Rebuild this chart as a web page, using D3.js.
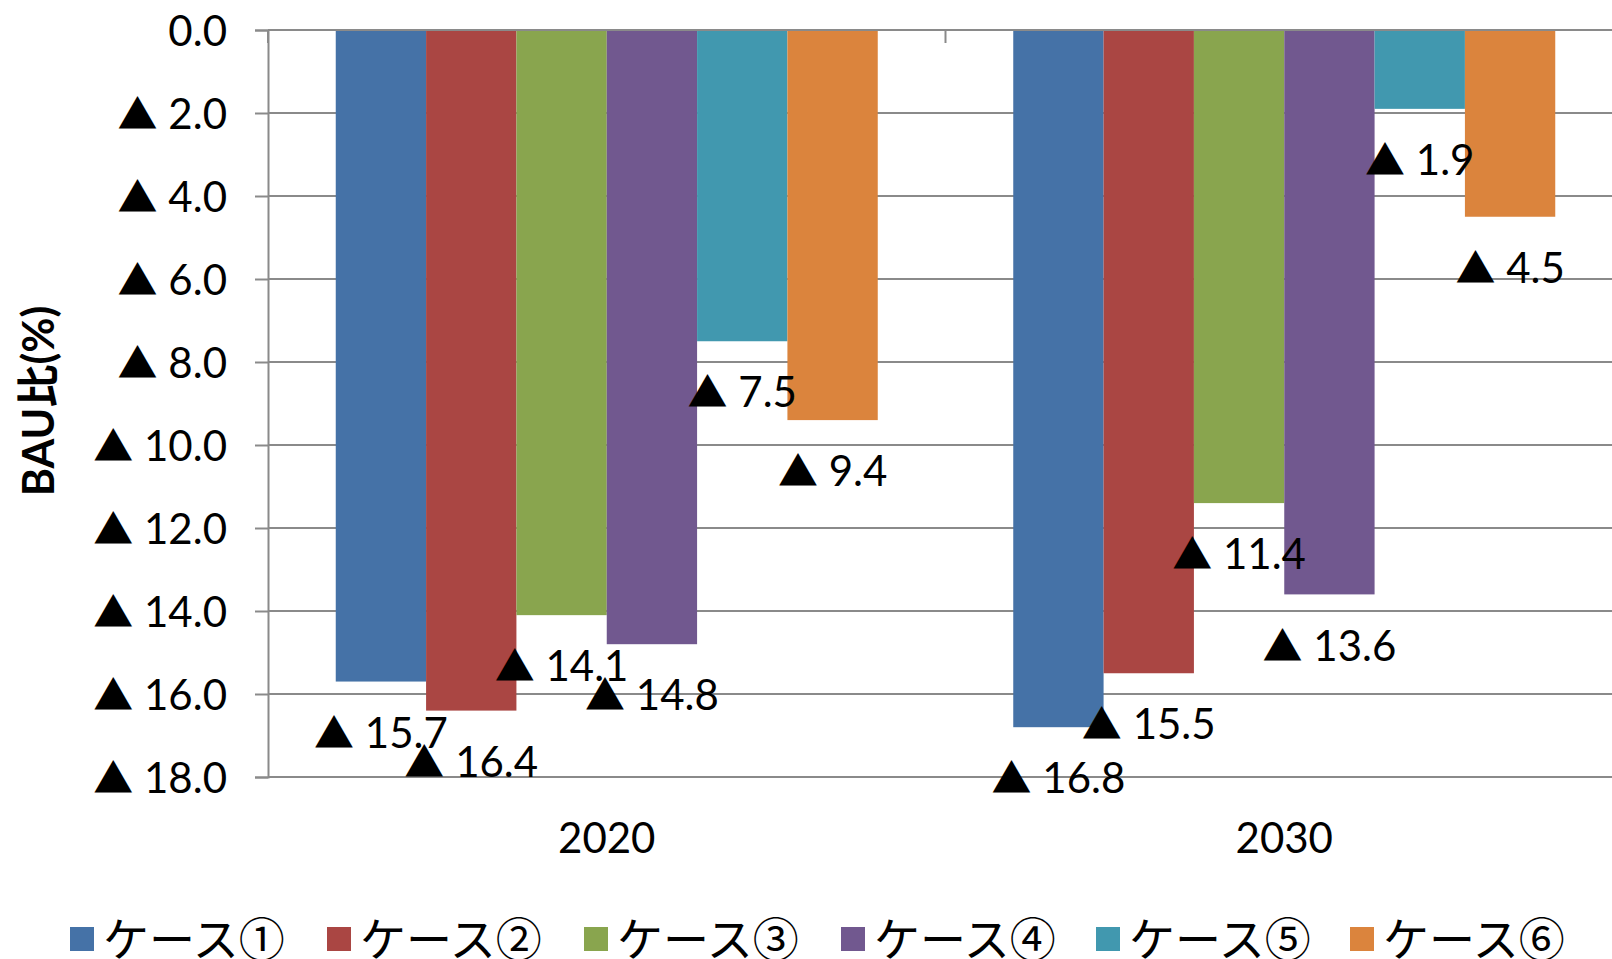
<!DOCTYPE html>
<html>
<head>
<meta charset="utf-8">
<script src="https://cdn.jsdelivr.net/npm/d3@7"></script>
<style>
  html, body { margin: 0; padding: 0; background: #ffffff; }
  svg { display: block; }
</style>
</head>
<body>
<svg id="chart" width="1612" height="959"></svg>
<script>
// BAU比 reduction rate by case, shown as negative (▲) percentages
const years = ["2020", "2030"];
const cases = ["ケース①", "ケース②", "ケース③", "ケース④", "ケース⑤", "ケース⑥"];
const values2020 = [15.7, 16.4, 14.1, 14.8, 7.5, 9.4];
const values2030 = [16.8, 15.5, 11.4, 13.6, 1.9, 4.5];
const caseColors = ["#4572A7", "#AA4643", "#89A54E", "#71588F", "#4198AF", "#DB843D"];
const yTicks = [0, 2, 4, 6, 8, 10, 12, 14, 16, 18];
const yTitle = "BAU比(%)";

const seriesByYear = { "2020": values2020, "2030": values2030 };
const rows = years.flatMap(year =>
  cases.map((c, i) => ({ year, caseName: c, value: seriesByYear[year][i], color: caseColors[i] })));

const svg = d3.select("#chart");
const plot = { left: 268, right: 1623, top: 30, bottom: 777 };
const gridColor = "#8a8a8a";
const numFont = "Lato, 'Noto Sans', sans-serif";
const cjkFont = "'Noto Sans CJK JP', sans-serif";

const x0 = d3.scaleBand().domain(years).range([plot.left, plot.right]).paddingInner(0).paddingOuter(0);
const x1 = d3.scaleBand().domain(cases).range([0, x0.bandwidth()]).paddingInner(0).paddingOuter(0.75 / 6 * 1.0);
// Gap width 150%: group = 6 bars, gap = 1.5 bars, split on both sides
x1.range([x0.bandwidth() * 0.1, x0.bandwidth() * 0.9]).paddingOuter(0);

// Value axis runs downward: 0 at the top, 18 at the bottom
const y = d3.scaleLinear().domain([0, 18]).range([plot.top, plot.bottom]);

const fmt = v => v === 0 ? "0.0" : d3.format(".1f")(v);

// Horizontal gridlines
svg.append("g").selectAll("line").data(yTicks).join("line")
  .attr("x1", plot.left).attr("x2", plot.right)
  .attr("y1", d => y(d)).attr("y2", d => y(d))
  .attr("stroke", gridColor).attr("stroke-width", 2);

// Bars
svg.append("g").selectAll("rect").data(rows).join("rect")
  .attr("x", d => x0(d.year) + x1(d.caseName))
  .attr("width", x1.bandwidth())
  .attr("y", y(0))
  .attr("height", d => y(d.value) - y(0))
  .attr("fill", d => d.color);

// Value axis with ▲ marking negative values
const yAxis = d3.axisLeft(y).tickValues(yTicks).tickSize(13).tickPadding(28).tickFormat(fmt);
const gy = svg.append("g").attr("transform", `translate(${plot.left},0)`).call(yAxis);
gy.select(".domain").attr("stroke", gridColor).attr("stroke-width", 2);
gy.selectAll(".tick line").attr("stroke", gridColor).attr("stroke-width", 2);
gy.selectAll(".tick text").each(function (d) {
  const t = d3.select(this);
  t.text(null)
    .attr("font-family", numFont).attr("font-size", 42).attr("fill", "#000")
    .attr("dy", "0.36em");
  if (d !== 0) {
    t.append("tspan").attr("font-family", cjkFont).attr("font-size", 40).text("▲");
    t.append("tspan").text(" ");
  }
  t.append("tspan").text(fmt(d));
});

// Category axis along the zero line with separator ticks
svg.append("line")
  .attr("x1", plot.left).attr("x2", plot.right)
  .attr("y1", y(0)).attr("y2", y(0))
  .attr("stroke", gridColor).attr("stroke-width", 2);
const bounds = years.map(yr => x0(yr)).concat([plot.right]);
svg.append("g").selectAll("line").data(bounds).join("line")
  .attr("x1", d => d).attr("x2", d => d)
  .attr("y1", y(0)).attr("y2", y(0) + 13)
  .attr("stroke", gridColor).attr("stroke-width", 2);

// Category labels
svg.append("g").selectAll("text").data(years).join("text")
  .attr("x", d => x0(d) + x0.bandwidth() / 2)
  .attr("y", 838).attr("dy", "0.36em")
  .attr("text-anchor", "middle")
  .attr("font-family", numFont).attr("font-size", 42).attr("fill", "#000")
  .text(d => d);

// Data labels below each bar end
const labels = svg.append("g").selectAll("text").data(rows).join("text")
  .attr("x", d => x0(d.year) + x1(d.caseName) + x1.bandwidth() / 2)
  .attr("y", d => y(d.value) + 51).attr("dy", "0.36em")
  .attr("text-anchor", "middle")
  .attr("font-family", numFont).attr("font-size", 42).attr("fill", "#000");
labels.append("tspan").attr("font-family", cjkFont).attr("font-size", 40).text("▲");
labels.append("tspan").text(" ");
labels.append("tspan").text(d => fmt(d.value));

// Axis title
svg.append("text")
  .attr("transform", "translate(39,401) rotate(-90)")
  .attr("text-anchor", "middle").attr("dy", "0.36em")
  .attr("font-family", "Lato, 'Noto Sans CJK JP', sans-serif")
  .attr("font-weight", "bold").attr("font-size", 43).attr("fill", "#000")
  .text(yTitle);

// Legend
const legendX = [70, 327, 584, 841, 1096, 1350];
const legend = svg.append("g").selectAll("g").data(cases).join("g")
  .attr("transform", (d, i) => `translate(${legendX[i]},939)`);
legend.append("rect")
  .attr("x", 0).attr("y", -12).attr("width", 24).attr("height", 24)
  .attr("fill", (d, i) => caseColors[i]);
legend.append("text")
  .attr("x", 33).attr("dy", "0.36em")
  .attr("font-family", cjkFont).attr("font-size", 46).attr("fill", "#000")
  .text(d => d);
</script>
</body>
</html>
